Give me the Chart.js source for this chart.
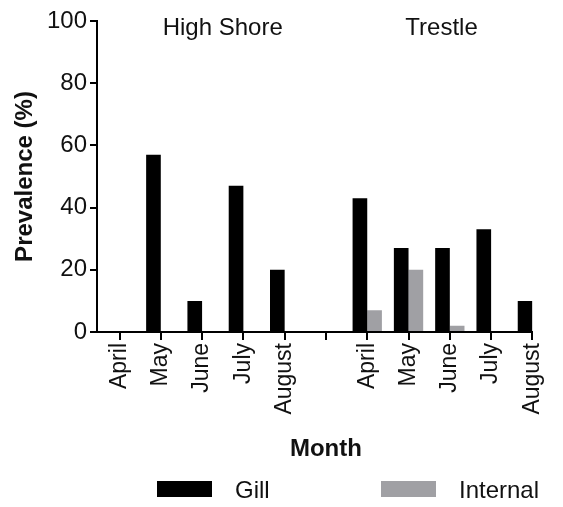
<!DOCTYPE html>
<html>
<head>
<meta charset="utf-8">
<style>
html,body{margin:0;padding:0;background:#fff;}
#wrap{width:563px;height:507px;position:relative;}
</style>
<script src="https://cdn.jsdelivr.net/npm/chart.js@4"></script>
</head>
<body>
<div id="wrap"><canvas id="c"></canvas></div>
<script>
// ---- data ----
const monthLabels = ['April','May','June','July','August','','April','May','June','July','August'];
const gill        = [0, 57, 10, 47, 20, null, 43, 27, 27, 33, 10];
const internal    = [0, 0, 0, 0, 0, null, 7, 20, 2, 0, 0];
const yTickValues = [0, 20, 40, 60, 80, 100];
const groupTitles = ['High Shore', 'Trestle'];
const seriesNames = ['Gill', 'Internal'];
const axisTitles  = {x: 'Month', y: 'Prevalence (%)'};

const FAMILY = '"Liberation Sans", Arial, Helvetica, sans-serif';
const TEXT = '#111';
Chart.defaults.font.family = FAMILY;
Chart.defaults.color = TEXT;

const toPoints = arr => arr.map((v, i) => ({x: i, y: v}));

const annot = {
  id: 'annot',
  afterDraw(chart) {
    const ctx = chart.ctx, xs = chart.scales.x;
    ctx.save();
    ctx.fillStyle = TEXT;
    ctx.textAlign = 'center';
    ctx.textBaseline = 'alphabetic';
    ctx.font = '24px ' + FAMILY;
    ctx.fillText(groupTitles[0], xs.getPixelForValue(2.5), 35);
    ctx.fillText(groupTitles[1], xs.getPixelForValue(7.8), 35);
    ctx.font = 'bold 24px ' + FAMILY;
    ctx.fillText(axisTitles.x, xs.getPixelForValue(5), 456);
    // legend
    const boxX = [157, 381], textX = [235, 459];
    ctx.textAlign = 'left';
    ctx.font = '24px ' + FAMILY;
    chart.data.datasets.forEach((ds, i) => {
      ctx.fillStyle = ds.backgroundColor;
      ctx.fillRect(boxX[i], 481, 55, 16);
      ctx.fillStyle = TEXT;
      ctx.fillText(ds.label, textX[i], 498);
    });
    ctx.restore();
  }
};

new Chart(document.getElementById('c'), {
  type: 'bar',
  data: {
    datasets: [
      {label: seriesNames[0], data: toPoints(gill), backgroundColor: '#000000', borderWidth: 0},
      {label: seriesNames[1], data: toPoints(internal), backgroundColor: '#a0a0a4', borderWidth: 0}
    ]
  },
  options: {
    responsive: true,
    maintainAspectRatio: false,
    animation: false,
    devicePixelRatio: 1,
    layout: {padding: {top: 21, right: 21, left: 0, bottom: 0}},
    plugins: {legend: {display: false}, tooltip: {enabled: false}},
    datasets: {bar: {categoryPercentage: 0.71, barPercentage: 1}},
    scales: {
      x: {
        type: 'linear',
        min: -0.545,
        max: 10,
        offset: false,
        grid: {display: true, offset: false, drawOnChartArea: false, drawTicks: true, tickLength: 8, lineWidth: 2, color: '#000'},
        border: {display: true, width: 2, color: '#000'},
        ticks: {
          stepSize: 1, includeBounds: false, autoSkip: false,
          maxRotation: 90, minRotation: 90, padding: 3,
          color: TEXT, font: {size: 23},
          callback: v => { const s = monthLabels[Math.round(v)]; return s === undefined ? '' : s; }
        },
        afterFit(s) { s.height = 175; }
      },
      y: {
        min: 0,
        max: 100,
        grid: {display: true, drawOnChartArea: false, drawTicks: true, tickLength: 7, lineWidth: 2, color: '#000'},
        border: {display: true, width: 2, color: '#000'},
        ticks: {stepSize: 20, padding: 3, color: TEXT, font: {size: 24},
          callback: v => yTickValues.includes(v) ? String(v) : ''},
        title: {display: true, text: axisTitles.y, color: TEXT, font: {size: 24, weight: 'bold'}, padding: {top: 11, bottom: 0}},
        afterFit(s) { s.width = 97; }
      }
    }
  },
  plugins: [annot]
});
</script>
</body>
</html>
